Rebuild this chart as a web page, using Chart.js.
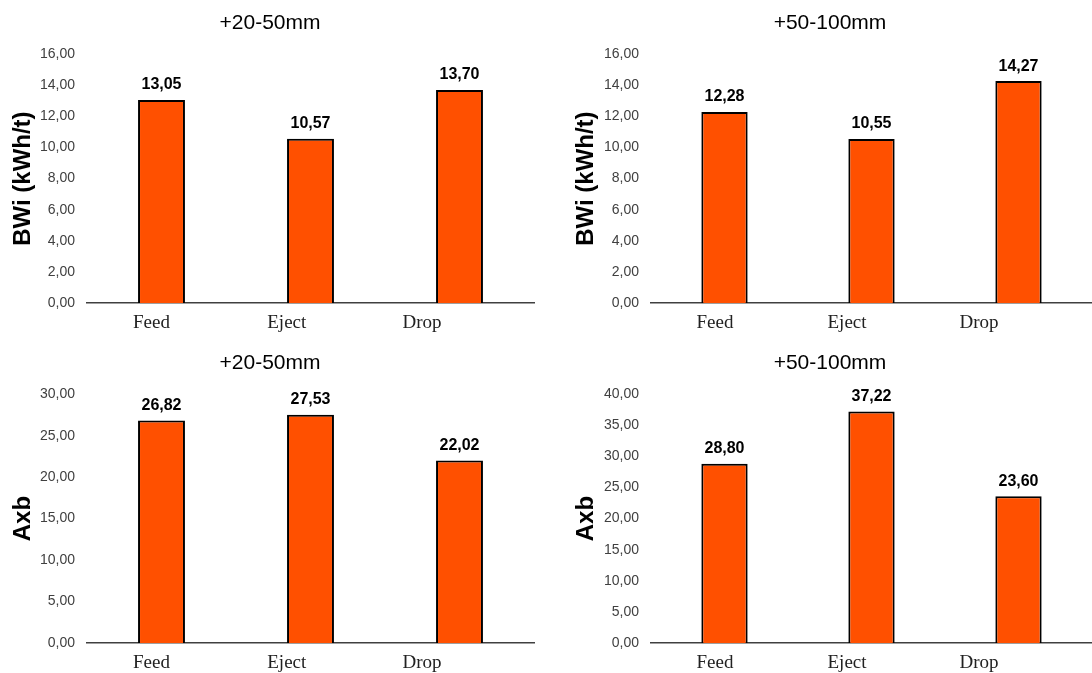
<!DOCTYPE html>
<html>
<head>
<meta charset="utf-8">
<script src="https://cdn.jsdelivr.net/npm/chart.js@4.4.1/dist/chart.umd.min.js"></script>
<style>
  html, body { margin: 0; padding: 0; background: #fff; overflow: hidden; }
  canvas { position: absolute; }
</style>
</head>
<body>
<canvas id="c1" width="540" height="333" style="left:0px;top:0px"></canvas>
<canvas id="c2" width="532" height="333" style="left:560px;top:0px"></canvas>
<canvas id="c3" width="540" height="333" style="left:0px;top:340px"></canvas>
<canvas id="c4" width="532" height="333" style="left:560px;top:340px"></canvas>
<script>
// data
var categories = ['Feed', 'Eject', 'Drop'];
var bwiFine = [13.05, 10.57, 13.70];   // +20-50mm
var bwiCoarse = [12.28, 10.55, 14.27]; // +50-100mm
var axbFine = [26.82, 27.53, 22.02];
var axbCoarse = [28.80, 37.22, 23.60];

var sans = "'Liberation Sans', Arial, sans-serif";
var serif = "'Liberation Serif', 'Times New Roman', serif";

function comma(v) {
  return Number(v).toFixed(2).replace('.', ',');
}

// bold value above each bar
var valueLabels = {
  id: 'valueLabels',
  afterDatasetsDraw: function (chart) {
    var ctx = chart.ctx;
    var meta = chart.getDatasetMeta(0);
    var values = chart.data.datasets[0].data;
    ctx.save();
    ctx.font = 'bold 16px ' + sans;
    ctx.fillStyle = '#000';
    ctx.textAlign = 'center';
    ctx.textBaseline = 'middle';
    meta.data.forEach(function (bar, i) {
      ctx.fillText(comma(values[i]), bar.x, bar.y - 15);
    });
    ctx.restore();
  }
};

function makeChart(id, title, yLabel, values, yMax, step, side) {
  var left = side === 'left';
  // in the original the category names sit a bit left of the bars,
  // so they go on their own axis with a narrower spread
  var labMin = left ? -0.477 : -0.485;
  var labMax = left ? 2.828 : 2.856;
  return new Chart(document.getElementById(id), {
    type: 'bar',
    data: {
      labels: categories,
      datasets: [{
        xAxisID: 'x',
        data: values,
        backgroundColor: '#FF5000',
        borderColor: '#000',
        borderWidth: 2,
        barPercentage: 0.315,
        categoryPercentage: 1
      }]
    },
    options: {
      responsive: false,
      animation: false,
      layout: { padding: { left: left ? 6 : 8, right: left ? 6 : 0, top: 0, bottom: 0 } },
      plugins: {
        legend: { display: false },
        tooltip: { enabled: false },
        title: {
          display: true,
          text: title,
          color: '#000',
          font: { family: sans, size: 21, weight: 'normal' },
          padding: { top: 11, bottom: 18 }
        }
      },
      scales: {
        x: { display: false },
        names: {
          type: 'linear',
          axis: 'x',
          position: 'bottom',
          offset: false,
          bounds: 'data',
          min: labMin,
          max: labMax,
          afterBuildTicks: function (s) {
            s.ticks = categories.map(function (c, i) { return { value: i }; });
          },
          grid: { display: false, drawTicks: false, offset: false },
          border: { display: true, color: '#404040', width: 1.5 },
          ticks: {
            color: '#222',
            padding: 9,
            autoSkip: false,
            maxRotation: 0,
            font: { family: serif, size: 19 },
            callback: function (v) { return categories[v]; }
          },
          afterFit: function (s) { s.height = 30; }
        },
        y: {
          min: 0,
          max: yMax,
          grid: { display: false, drawTicks: false },
          border: { display: false },
          ticks: {
            stepSize: step,
            padding: 12,
            color: '#404040',
            font: { family: sans, size: 14 },
            callback: function (v) { return comma(v); }
          },
          title: {
            display: true,
            text: yLabel,
            color: '#000',
            font: { family: sans, size: 24, weight: 'bold' },
            padding: { top: left ? 3 : 4, bottom: 0 }
          },
          afterFit: function (s) { s.width = left ? 81 : 83; }
        }
      }
    },
    plugins: [valueLabels]
  });
}

makeChart('c1', '+20-50mm', 'BWi (kWh/t)', bwiFine, 16, 2, 'left');
makeChart('c2', '+50-100mm', 'BWi (kWh/t)', bwiCoarse, 16, 2, 'right');
makeChart('c3', '+20-50mm', 'Axb', axbFine, 30, 5, 'left');
makeChart('c4', '+50-100mm', 'Axb', axbCoarse, 40, 5, 'right');
</script>
</body>
</html>
